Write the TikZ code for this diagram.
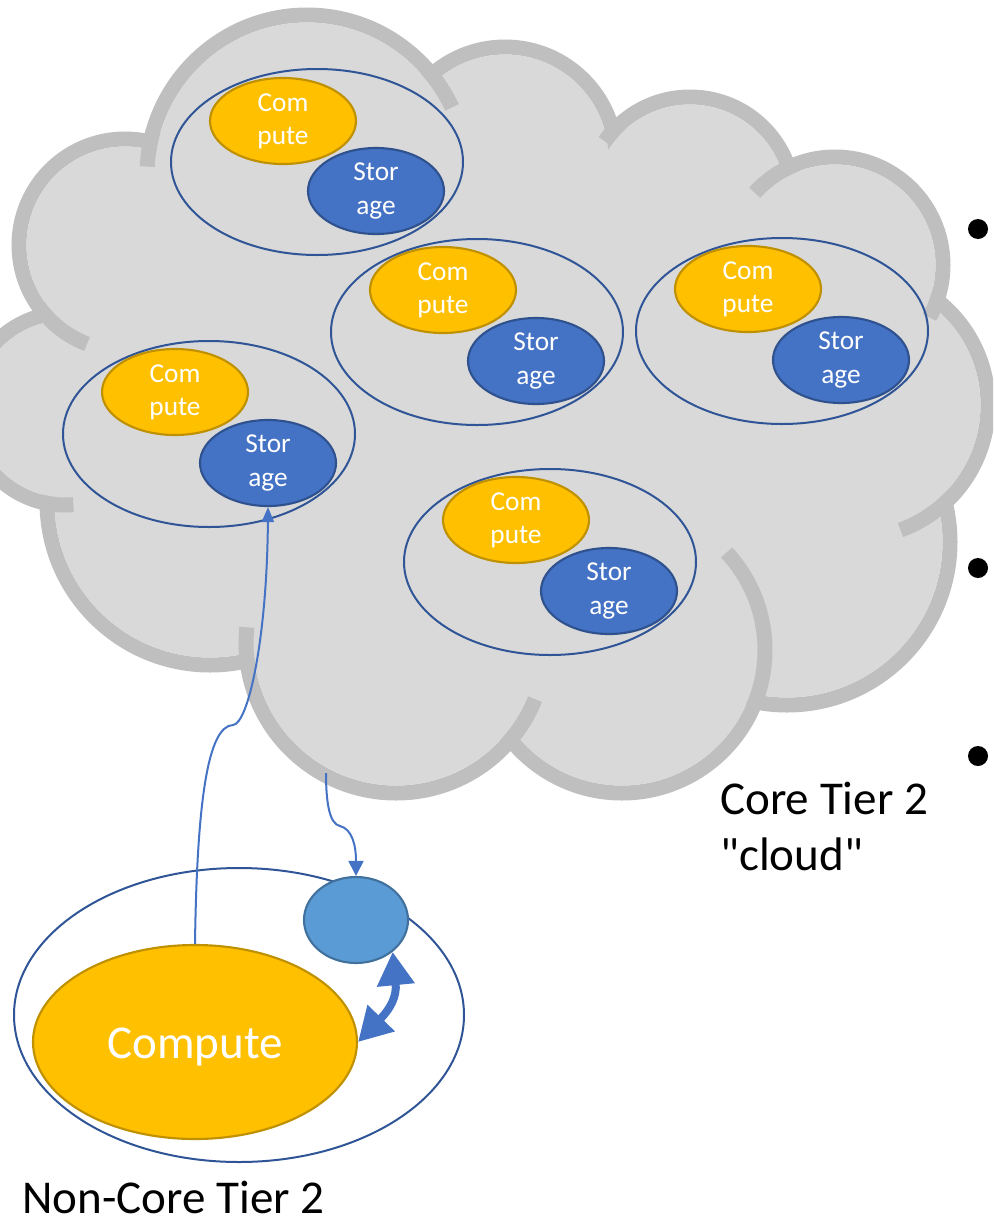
\documentclass[tikz,border=0pt]{standalone}
\usepackage{fontspec}
\setmainfont{Carlito}
\newfontfamily\captfont{Carlito}
\usetikzlibrary{shapes.geometric,arrows.meta,calc}
\definecolor{cldfill}{HTML}{D9D9D9}
\definecolor{cldedge}{HTML}{BFBFBF}
\definecolor{grpblue}{HTML}{2F5597}
\definecolor{cmpfill}{HTML}{FFC000}
\definecolor{cmpedge}{HTML}{BF9000}
\definecolor{stgfill}{HTML}{4472C4}
\definecolor{stgedge}{HTML}{2F528F}
\definecolor{smfill}{HTML}{5B9BD5}
\definecolor{smedge}{HTML}{41719C}
\definecolor{arrblue}{HTML}{4472C4}
\newcommand\cloudstub[5]{\draw[cloudband] (#1,#2) ++(#4:#3) arc[start angle=#4,end angle=#5,radius=#3];}
\begin{document}
\begin{tikzpicture}[x=0.75pt,y=-0.75pt,
  cloudband/.style={draw=cldedge, line width=11.25pt},
  grp/.style={ellipse, draw=grpblue, line width=1.5pt, minimum width=219pt, minimum height=139.5pt, inner sep=0pt},
  cmp/.style={ellipse, draw=cmpedge, fill=cmpfill, line width=1.6pt, minimum width=109.5pt, minimum height=64.5pt, inner sep=0pt, text=white, font=\fontsize{20.5}{25}\selectfont, align=center},
  stg/.style={ellipse, draw=stgedge, fill=stgfill, line width=1.6pt, minimum width=102pt, minimum height=64.5pt, inner sep=0pt, text=white, font=\fontsize{20.5}{25}\selectfont, align=center},
  conn/.style={draw=arrblue, line width=1.5pt},
  bulletdot/.style={circle, fill=black, minimum size=15pt, inner sep=0pt},
  captxt/.style={font=\captfont\fontsize{35.3}{41.5}\selectfont, inner sep=0pt, align=left}
]
\useasboundingbox (0,0) rectangle (993,1221);
\begin{scope}
\clip (0,0) rectangle (993,1221);
% cloud bumps: outlines
\foreach \cx/\cy/\r in {307/175/160, 505/158/111, 690/201/104, 835/265/108, 855/405/133, 787/542/163, 622/650/143, 396/643/150, 210/502/163, 65/409/96, 125/245/106}
  {\draw[cloudband] (\cx,\cy) circle[radius=\r];}
% cloud fill
\foreach \cx/\cy/\r in {307/175/160, 505/158/111, 690/201/104, 835/265/108, 855/405/133, 787/542/163, 622/650/143, 396/643/150, 210/502/163, 65/409/96, 125/245/106}
  {\pgfmathsetmacro\rr{\r-7.5}\fill[cldfill] (\cx,\cy) circle[radius=\rr];}
\fill[cldfill] (307,175) -- (505,158) -- (690,201) -- (835,265) -- (855,405) -- (787,542) -- (622,650) -- (396,643) -- (210,502) -- (65,409) -- (125,245) -- cycle;
% inner stubs
\cloudstub{307}{175}{160}{196}{183}
\cloudstub{307}{175}{160}{-42}{-25}
\cloudstub{125}{245}{106}{145}{111}
\cloudstub{65}{409}{96}{104}{85}
\cloudstub{396}{643}{150}{170}{186}
\cloudstub{396}{643}{150}{43}{22}
\cloudstub{622}{650}{143}{23.5}{-43}
\cloudstub{855}{405}{133}{45}{70}
\cloudstub{835}{265}{108}{16}{29}
\cloudstub{835}{265}{108}{249}{222}
\cloudstub{690}{201}{104}{229}{215}
\end{scope}

% clusters in the cloud
\node[grp] (g1) at (317,162) {};
\node[cmp] (c1) at (283,121) {Com\\pute};
\node[stg] (s1) at (376,191) {Stor\\age};

\node[grp] (g2) at (477,332) {};
\node[cmp] (c2) at (443,290) {Com\\pute};
\node[stg] (s2) at (536,361) {Stor\\age};

\node[grp] (g3) at (782,331) {};
\node[cmp] (c3) at (748,289) {Com\\pute};
\node[stg] (s3) at (841,360) {Stor\\age};

\node[grp] (g4) at (209,434) {};
\node[cmp] (c4) at (175,392) {Com\\pute};
\node[stg] (s4) at (268,463) {Stor\\age};

\node[grp] (g5) at (550,562) {};
\node[cmp] (c5) at (516,520) {Com\\pute};
\node[stg] (s5) at (609,591) {Stor\\age};

% non-core tier 2
\node[ellipse, draw=grpblue, line width=1.5pt, minimum width=337.5pt, minimum height=220.5pt, inner sep=0pt] (nc) at (239,1015) {};
\node[ellipse, draw=cmpedge, fill=cmpfill, line width=1.6pt, minimum width=243pt, minimum height=145.5pt, inner sep=0pt, text=white, font=\fontsize{35.3}{42}\selectfont, text height=32pt, text depth=7pt] (bc) at (195,1042) {Compute};
\node[ellipse, draw=smedge, fill=smfill, line width=1.6pt, minimum width=78pt, minimum height=64.5pt, inner sep=0pt] (sc) at (356,920) {};

% connectors
\draw[conn, -{Triangle[length=11.25pt,width=9pt]}] (bc.north) .. controls (197,800) and (208,726) .. (233,725) .. controls (248,724) and (267,640) .. (s4.south);
\coordinate (cb) at (326,773);
\draw[conn, -{Triangle[length=11.25pt,width=11.25pt]}] (cb) .. controls (326,805) and (330,824) .. (340,826) .. controls (352,829) and (356,845) .. (sc.north);
\draw[draw=arrblue, line width=6pt, {Triangle[length=25pt,width=27pt]}-{Triangle[length=25pt,width=27pt]}] (sc.-41.6) .. controls (397,997) and (390,1009) .. (bc.east);

% captions
\node[captxt, anchor=base west] (core) at (720,870) {Core Tier 2\\"cloud"};
\node[captxt, anchor=base west] (noncore) at (22,1213) {Non-Core Tier 2};

% bullets (cut off at the right edge)
\node[bulletdot] (b1) at (978,229) {};
\node[bulletdot] (b2) at (978,568) {};
\node[bulletdot] (b3) at (978,756) {};
\end{tikzpicture}
\end{document}
